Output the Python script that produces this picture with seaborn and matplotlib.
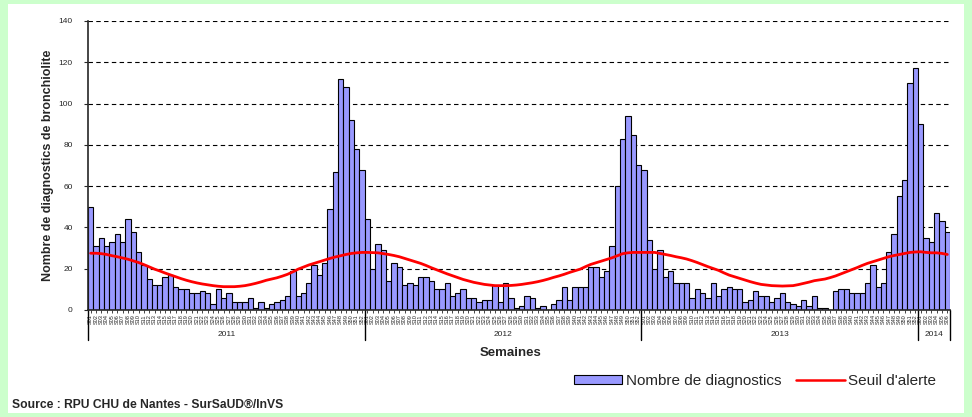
import matplotlib
matplotlib.use("Agg")
import matplotlib.pyplot as plt
import matplotlib.patches as mpatches
from matplotlib.lines import Line2D
import matplotlib.transforms as mtransforms
import seaborn as sns
import numpy as np
import pandas as pd

# weekly counts
diag_2011 = [50, 31, 35, 31, 33, 37, 33, 44, 38, 28, 22, 15, 12, 12, 16, 17, 11, 10, 10, 8,
             8, 9, 8, 3, 10, 6, 8, 4, 4, 4, 6, 1, 4, 1, 3, 4, 5, 7, 19, 7,
             8, 13, 22, 17, 23, 49, 67, 112, 108, 92, 78, 68]
diag_2012 = [44, 20, 32, 29, 14, 23, 21, 12, 13, 12, 16, 16, 14, 10, 10, 13, 7, 8, 10, 6,
             6, 4, 5, 5, 12, 4, 13, 6, 1, 2, 7, 6, 1, 2, 0, 3, 5, 11, 5, 11,
             11, 11, 21, 21, 16, 19, 31, 60, 83, 94, 85, 70]
diag_2013 = [68, 34, 20, 29, 16, 19, 13, 13, 13, 6, 10, 8, 6, 13, 7, 10, 11, 10, 10, 4,
             5, 9, 7, 7, 4, 6, 8, 4, 3, 2, 5, 2, 7, 1, 1, 0, 9, 10, 10, 8,
             8, 8, 13, 22, 11, 13, 28, 37, 55, 63, 110, 117]
diag_2014 = [90, 35, 33, 47, 43, 38]

seuil_2011 = [27.5, 27.5, 27.3, 26.9, 26.3, 25.8, 25.2, 24.6, 23.8, 23.0, 22.0, 20.9, 19.8,
              18.9, 17.9, 17.0, 16.1, 15.2, 14.4, 13.7, 13.1, 12.6, 12.2, 11.8, 11.5, 11.3,
              11.3, 11.3, 11.5, 11.8, 12.3, 12.9, 13.6, 14.4, 15.0, 15.6, 16.4, 17.3, 18.5,
              19.8, 20.8, 21.8, 22.6, 23.4, 24.2, 25.0, 25.7, 26.3, 26.9, 27.4, 27.7, 27.9]
seuil_2012 = [27.9, 27.8, 27.7, 27.3, 26.9, 26.4, 25.8, 25.0, 24.2, 23.4, 22.6, 21.6, 20.5,
              19.5, 18.5, 17.5, 16.6, 15.7, 14.8, 14.1, 13.4, 12.9, 12.4, 12.1, 11.8, 11.8,
              11.8, 11.9, 12.1, 12.4, 12.8, 13.2, 13.7, 14.3, 15.0, 15.8, 16.5, 17.3, 18.2,
              19.0, 19.8, 21.0, 22.1, 22.9, 23.7, 24.5, 25.3, 26.3, 27.3, 27.7, 27.9, 27.9]
seuil_2013 = [27.9, 27.9, 27.9, 27.4, 26.9, 26.4, 25.8, 25.3, 24.7, 23.9, 23.0, 22.0, 21.0,
              20.1, 19.2, 18.0, 16.9, 16.1, 15.3, 14.5, 13.7, 13.0, 12.4, 12.1, 11.8, 11.7,
              11.6, 11.7, 11.8, 12.3, 12.9, 13.5, 14.2, 14.6, 15.0, 15.7, 16.5, 17.5, 18.5,
              19.5, 20.5, 21.6, 22.6, 23.4, 24.2, 25.0, 25.8, 26.4, 26.9, 27.4, 27.9, 28.1]
seuil_2014 = [28.2, 27.9, 27.7, 27.7, 27.4, 26.9]

years = ["2011", "2012", "2013", "2014"]
diag = [diag_2011, diag_2012, diag_2013, diag_2014]
seuil = [seuil_2011, seuil_2012, seuil_2013, seuil_2014]

rows = []
for y, d, s in zip(years, diag, seuil):
    for i, (dv, sv) in enumerate(zip(d, s)):
        rows.append({"annee": y, "semaine": i + 1, "diag": dv, "seuil": sv})
df = pd.DataFrame(rows)
df["pos"] = np.arange(len(df))
df["label"] = ["S%02d" % w for w in df["semaine"]]

sns.set_style("white")
plt.rcParams["font.family"] = ["Liberation Sans", "DejaVu Sans"]

fig = plt.figure(figsize=(9.72, 4.17), dpi=100, facecolor="#ccffcc")
# white panel inside the green frame
bg = fig.add_axes([8 / 972, 4 / 417, 956 / 972, 409 / 417], zorder=-5)
bg.set_facecolor("white")
bg.set_xticks([]); bg.set_yticks([])
for sp in bg.spines.values():
    sp.set_visible(False)

ax = fig.add_axes([88 / 972, 107 / 417, 862 / 972, 289 / 417])
ax.set_facecolor("none")

sns.barplot(data=df, x="pos", y="diag", color="#9999ff", saturation=1,
            edgecolor="black", linewidth=0.8, width=1.0, ax=ax, zorder=2)
ax.plot(df["pos"], df["seuil"], color="red", lw=2.0, zorder=3)

ax.set_xlim(-0.5, len(df) - 0.5)
ax.set_ylim(0, 140)
ax.set_yticks(range(0, 141, 20))
ax.tick_params(axis="y", labelsize=6, length=3, width=0.8, direction="out", left=True, pad=8)
ax.yaxis.grid(True, linestyle=(0, (4, 3)), color="black", linewidth=0.8)
ax.set_axisbelow(True)
for sp in ["top", "right"]:
    ax.spines[sp].set_visible(False)
ax.spines["left"].set_linewidth(1.2)
ax.spines["bottom"].set_linewidth(1.2)

ax.set_xticks(df["pos"])
ax.set_xticklabels(df["label"], rotation=90, fontsize=4)
ax.tick_params(axis="x", length=2, width=0.6, pad=1, bottom=True)
ax.set_xlabel("")
ax.set_ylabel("Nombre de diagnostics de bronchiolite", fontsize=9, fontweight="bold",
              labelpad=3)

trans = mtransforms.blended_transform_factory(ax.transData, ax.transAxes)
bounds = [-0.5]
for d in diag:
    bounds.append(bounds[-1] + len(d))
for b in bounds:
    ax.plot([b, b], [0, -0.105], color="black", lw=1.0, transform=trans, clip_on=False)
for y, lo, hi in zip(years, bounds[:-1], bounds[1:]):
    ax.text((lo + hi) / 2, -0.085, y, transform=trans, ha="center", va="center", fontsize=6)
ax.text(0.49, -0.15, "Semaines", transform=ax.transAxes, ha="center", va="center",
        fontsize=9.5, fontweight="bold")

handles = [mpatches.Patch(facecolor="#9999ff", edgecolor="black", linewidth=0.8),
           Line2D([0], [0], color="red", lw=1.8)]
fig.legend(handles, ["Nombre de diagnostics", "Seuil d'alerte"], ncol=2, frameon=False,
           fontsize=11, loc="center right", bbox_to_anchor=(950 / 972, 1 - 381 / 417),
           handlelength=3.2, handleheight=0.5, columnspacing=1.0, handletextpad=0.2)

fig.text(12 / 972, 1 - 405 / 417, "Source : RPU CHU de Nantes - SurSaUD\u00ae/InVS",
         fontsize=8.7, fontweight="bold", ha="left", va="center")

fig.savefig("out.png", dpi=100, facecolor=fig.get_facecolor())
plt.close(fig)
